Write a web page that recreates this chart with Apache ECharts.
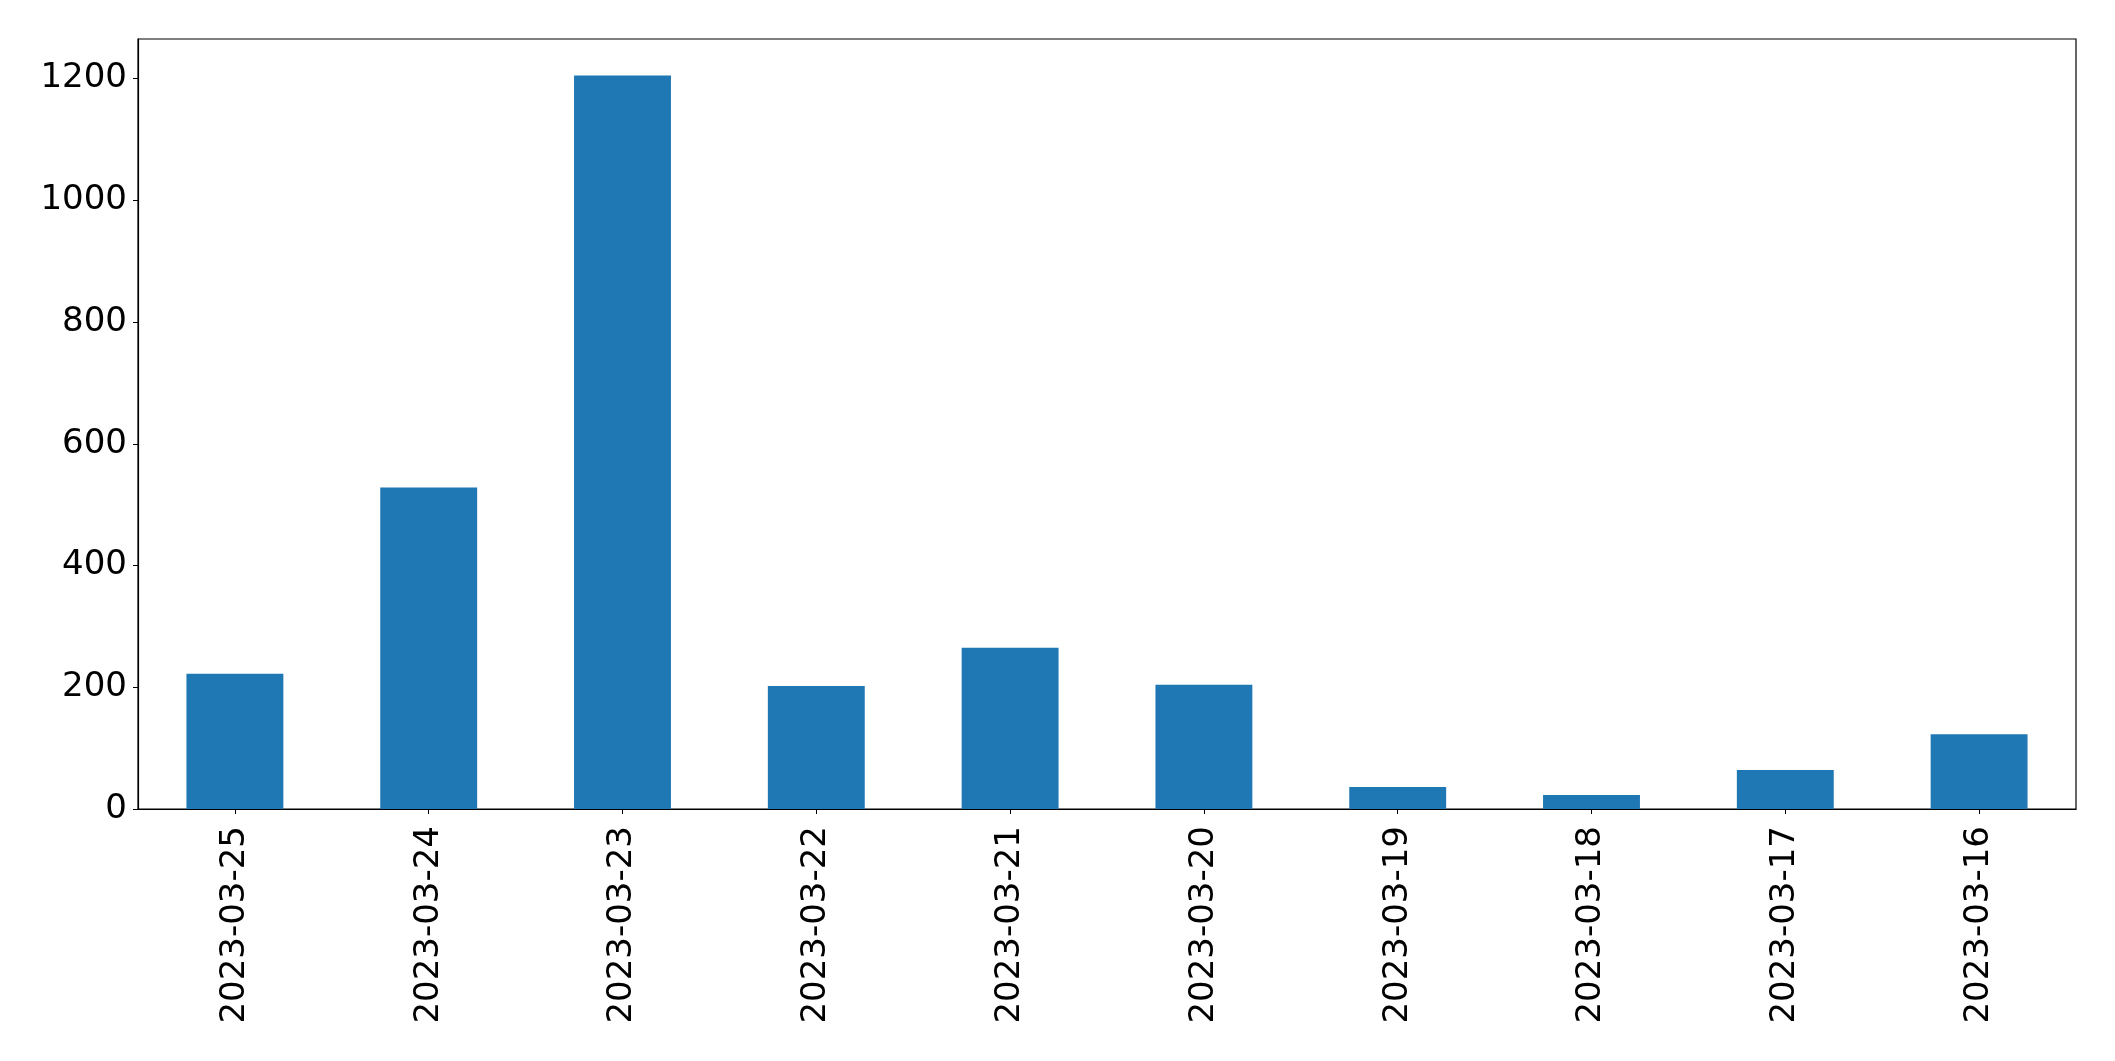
<!DOCTYPE html>
<html>
<head>
<meta charset="utf-8">
<script src="https://cdn.jsdelivr.net/npm/echarts@6/dist/echarts.min.js"></script>
<style>
html,body{margin:0;padding:0;background:#fff;}
#chart{width:2115px;height:1061px;}
</style>
</head>
<body>
<div id="chart"></div>
<script>
const categories = ['2023-03-25','2023-03-24','2023-03-23','2023-03-22','2023-03-21','2023-03-20','2023-03-19','2023-03-18','2023-03-17','2023-03-16'];
const values = [222, 528, 1205, 202, 265, 204, 36, 23, 64, 123];
const yTicks = [0, 200, 400, 600, 800, 1000, 1200];

const chart = echarts.init(document.getElementById('chart'), null, {renderer: 'canvas'});
const font = 'DejaVu Sans';
chart.setOption({
  animation: false,
  backgroundColor: '#ffffff',
  grid: {left: 138, right: 39, top: 39, bottom: 252, show: true, borderColor: '#000', borderWidth: 1.2, backgroundColor: 'transparent'},
  xAxis: {
    type: 'category',
    data: categories,
    axisLine: {show: true, lineStyle: {color: '#000', width: 1.2}},
    axisTick: {show: true, alignWithLabel: true, length: 5, lineStyle: {color: '#000', width: 1}},
    axisLabel: {rotate: 90, margin: 17, fontFamily: font, fontSize: 34, color: '#000', interval: 0},
    splitLine: {show: false}
  },
  yAxis: {
    type: 'value',
    min: 0,
    max: 1265,
    interval: 200,
    axisLine: {show: true, lineStyle: {color: '#000', width: 1.2}},
    axisTick: {show: true, length: 5, lineStyle: {color: '#000', width: 1}, customValues: yTicks},
    axisLabel: {margin: 11, fontFamily: font, fontSize: 34, color: '#000', customValues: yTicks, formatter: function (v) { return String(v); }},
    splitLine: {show: false}
  },
  series: [{
    type: 'bar',
    data: values,
    barCategoryGap: '50%',
    itemStyle: {color: '#1f77b4'}
  }]
});
</script>
</body>
</html>
